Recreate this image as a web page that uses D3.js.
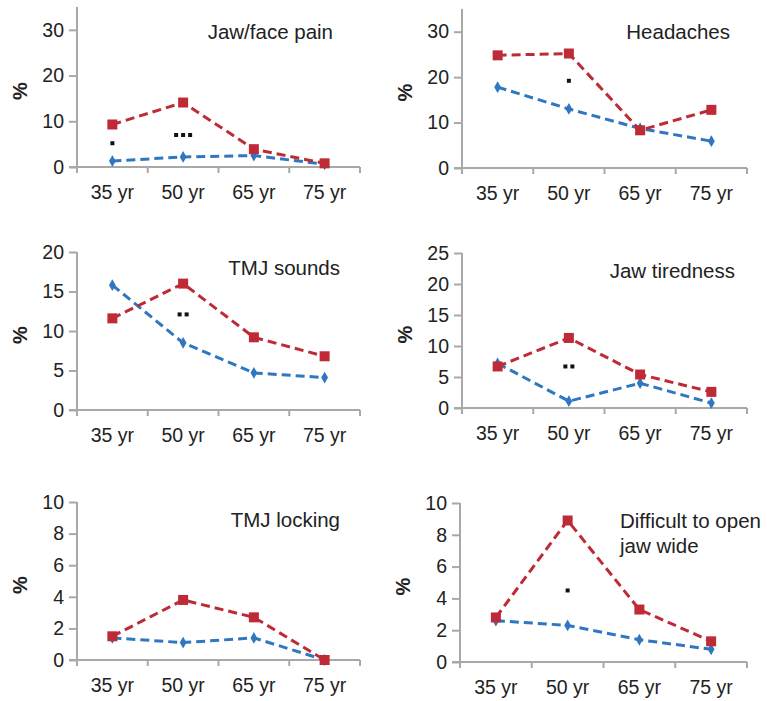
<!DOCTYPE html>
<html>
<head>
<meta charset="utf-8">
<script src="https://cdn.jsdelivr.net/npm/d3@7"></script>
<style>
  body { margin: 0; background: #fff; }
  svg text { font-family: "Liberation Sans", Arial, sans-serif; fill: #222; }
</style>
</head>
<body>
<div class="forSvg"></div>
<script>
// data
const ages = ["35 yr", "50 yr", "65 yr", "75 yr"];
const titles = [["Jaw/face pain"], ["Headaches"], ["TMJ sounds"], ["Jaw tiredness"], ["TMJ locking"], ["Difficult to open", "jaw wide"]];
const redValues = [
  [9.3, 14.1, 3.9, 0.8],
  [24.8, 25.2, 8.3, 12.8],
  [11.6, 16.0, 9.2, 6.8],
  [6.7, 11.3, 5.4, 2.6],
  [1.5, 3.8, 2.7, 0.0],
  [2.8, 8.9, 3.3, 1.3]
];
const blueValues = [
  [1.3, 2.2, 2.5, 0.6],
  [17.8, 13.0, 8.7, 5.9],
  [15.8, 8.5, 4.7, 4.1],
  [7.2, 1.1, 4.0, 0.8],
  [1.4, 1.1, 1.4, 0.0],
  [2.6, 2.3, 1.4, 0.8]
];
const yMax = [35, 35, 20, 25, 10, 10];
const yTicks = [[0, 10, 20, 30], [0, 10, 20, 30], [0, 5, 10, 15, 20], [0, 5, 10, 15, 20, 25], [0, 2, 4, 6, 8, 10], [0, 2, 4, 6, 8, 10]];
// significance stars: [age index, value, count]
const stars = [
  [[0, 5.2, 1], [1, 7.0, 3]],
  [[1, 19.2, 1]],
  [[1, 12.1, 2]],
  [[1, 6.7, 2]],
  [],
  [[1, 4.5, 1]]
];

const svg_w = 767, svg_h = 701;
const red = "#be2b36", blue = "#2f77c0", axisCol = "#a8a8a8";
const fs = "19.5px";

// panel layout: x0/x1 of axis, y of zero, y of top value, title position
const layout = [
  { x0: 77, x1: 360, y0: 167, yTop: 7, tx: 333, ty: 39 },
  { x0: 462, x1: 747, y0: 168, yTop: 9, tx: 730, ty: 39 },
  { x0: 77, x1: 360, y0: 410, yTop: 252, tx: 340, ty: 275 },
  { x0: 462, x1: 747, y0: 408, yTop: 253, tx: 735, ty: 278 },
  { x0: 77, x1: 360, y0: 660, yTop: 502, tx: 340, ty: 527 },
  { x0: 460, x1: 747, y0: 662, yTop: 503, tx: 620, ty: 528, anchor: "start" }
];

const svg = d3.select(".forSvg").append("svg")
  .attr("width", svg_w).attr("height", svg_h);

layout.forEach((L, p) => {
  const g = svg.append("g");
  const x = d3.scaleBand().domain(ages).range([L.x0, L.x1]);
  const y = d3.scaleLinear().domain([0, yMax[p]]).range([L.y0, L.yTop]);

  // y axis
  const yAxis = d3.axisLeft(y).tickValues(yTicks[p]).tickSize(8).tickPadding(5);
  const ga = g.append("g").attr("transform", `translate(${L.x0},0)`).call(yAxis);
  ga.select(".domain").attr("stroke", axisCol).attr("stroke-width", 2).attr("d", `M0,${L.yTop}V${L.y0}`);
  ga.selectAll(".tick line").attr("stroke", axisCol).attr("stroke-width", 2);
  ga.selectAll(".tick text").style("font-size", fs).attr("fill", "#222");

  // x axis: labels centred, ticks at band edges
  const xAxis = d3.axisBottom(x).tickSize(0).tickPadding(18);
  const gx = g.append("g").attr("transform", `translate(0,${L.y0})`).call(xAxis);
  gx.select(".domain").attr("stroke", axisCol).attr("stroke-width", 2).attr("d", `M${L.x0 - 8},0H${L.x1}`);
  gx.selectAll(".tick text").style("font-size", fs).attr("fill", "#222");
  gx.selectAll("line.edge")
    .data(ages.map(a => x(a)).concat([L.x1]))
    .enter().append("line").attr("class", "edge")
    .attr("x1", d => d).attr("x2", d => d)
    .attr("y1", 0).attr("y2", 6)
    .attr("stroke", axisCol).attr("stroke-width", 2);

  // "%" label
  g.append("text")
    .attr("transform", `translate(${L.x0 - 50},${(L.y0 + L.yTop) / 2 + 4}) rotate(-90)`)
    .attr("text-anchor", "middle")
    .style("font-size", "20px").style("font-weight", "bold")
    .text("%");

  // title
  const t = g.append("text")
    .attr("x", L.tx).attr("y", L.ty)
    .attr("text-anchor", L.anchor || "end")
    .style("font-size", "20.5px");
  titles[p].forEach((s, i) => {
    t.append("tspan").attr("x", L.tx).attr("dy", i === 0 ? 0 : 25).text(s);
  });

  const cx = a => x(a) + x.bandwidth() / 2;
  const line = vals => d3.line().x((d, i) => cx(ages[i])).y(d => y(d))(vals);

  // blue series
  g.append("path").attr("d", line(blueValues[p]))
    .attr("fill", "none").attr("stroke", blue).attr("stroke-width", 3)
    .attr("stroke-dasharray", "9,5");
  g.selectAll("path.bdot").data(blueValues[p]).enter().append("path").attr("class", "bdot")
    .attr("d", d3.symbol(d3.symbolDiamond, 40))
    .attr("transform", (d, i) => `translate(${cx(ages[i])},${y(d)})`)
    .attr("fill", blue);

  // red series
  g.append("path").attr("d", line(redValues[p]))
    .attr("fill", "none").attr("stroke", red).attr("stroke-width", 3)
    .attr("stroke-dasharray", "9,5");
  g.selectAll("rect.rsq").data(redValues[p]).enter().append("rect").attr("class", "rsq")
    .attr("x", (d, i) => cx(ages[i]) - 5).attr("y", d => y(d) - 5)
    .attr("width", 10).attr("height", 10)
    .attr("fill", red);

  // significance markers
  stars[p].forEach(([ai, v, n]) => {
    for (let k = 0; k < n; k++) {
      g.append("rect")
        .attr("x", cx(ages[ai]) - (n * 7) / 2 + k * 7 + 1.5)
        .attr("y", y(v) - 2)
        .attr("width", 4).attr("height", 4)
        .attr("fill", "#111");
    }
  });
});
</script>
</body>
</html>
